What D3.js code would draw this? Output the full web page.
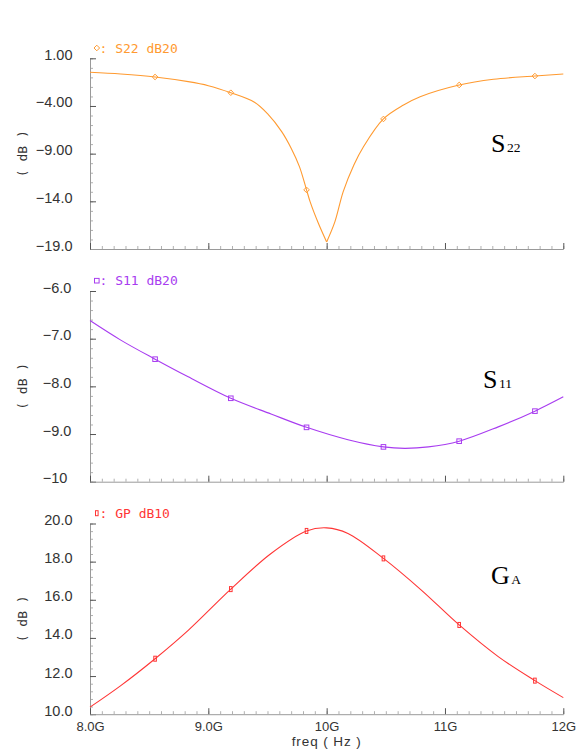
<!DOCTYPE html>
<html><head><meta charset="utf-8">
<script src="https://cdnjs.cloudflare.com/ajax/libs/d3/7.8.5/d3.min.js"></script>
<style>body{margin:0;background:#fff}svg{display:block}</style>
</head><body>
<script>
// ---------- data ----------
const xTicks = [8, 9, 10, 11, 12];
const xTickLabels = ["8.0G", "9.0G", "10G", "11G", "12G"];
const markerFreq = [8.55, 9.19, 9.83, 10.48, 11.12, 11.76];

const freqS22 = [8.0, 8.26, 8.55, 8.83, 9.0, 9.19, 9.39, 9.5, 9.62, 9.7, 9.77, 9.83, 9.86, 9.93, 10.0, 10.07, 10.14, 10.23, 10.31, 10.48, 10.65, 10.79, 11.12, 11.41, 11.76, 12.0];
const valS22 = [-0.47, -0.65, -0.96, -1.45, -1.87, -2.61, -3.6, -4.8, -6.69, -8.43, -10.36, -12.8, -14.03, -16.3, -18.26, -16.13, -12.98, -10.18, -8.3, -5.36, -3.9, -3.03, -1.8, -1.2, -0.86, -0.65];
const markS22 = [-0.96, -2.61, -12.8, -5.36, -1.8, -0.86];
const yTicksS22 = [1, -4, -9, -14, -19];
const yLabelsS22 = ["1.00", "\u22124.00", "\u22129.00", "\u221214.0", "\u221219.0"];

const freqS11 = [8.0, 8.26, 8.55, 8.83, 9.19, 9.53, 9.83, 10.18, 10.48, 10.66, 10.86, 11.12, 11.45, 11.76, 12.0];
const valS11 = [-6.62, -7.03, -7.43, -7.80, -8.25, -8.58, -8.86, -9.12, -9.27, -9.30, -9.27, -9.15, -8.85, -8.52, -8.22];
const markS11 = [-7.43, -8.25, -8.86, -9.27, -9.15, -8.52];
const yTicksS11 = [-6, -7, -8, -9, -10];
const yLabelsS11 = ["\u22126.0", "\u22127.0", "\u22128.0", "\u22129.0", "\u221210"];

const freqGP = [8.0, 8.26, 8.55, 8.83, 9.19, 9.53, 9.83, 10.0, 10.18, 10.48, 10.80, 11.12, 11.45, 11.76, 12.0];
const valGP = [10.37, 11.5, 12.91, 14.4, 16.56, 18.43, 19.61, 19.77, 19.48, 18.17, 16.51, 14.68, 13.02, 11.76, 10.87];
const markGP = [12.91, 16.56, 19.61, 18.17, 14.68, 11.76];
const yTicksGP = [20, 18, 16, 14, 12, 10];
const yLabelsGP = ["20.0", "18.0", "16.0", "14.0", "12.0", "10.0"];

// ---------- layout ----------
const W = 576, H = 753;
const svg = d3.select("body").append("svg").attr("width", W).attr("height", H);
const x = d3.scaleLinear().domain([8, 12]).range([90, 563.3]);
const panelH = 190.7;
const sans = "'Liberation Sans', Arial, sans-serif";
const mono = "'DejaVu Sans Mono', monospace";

const panels = [
  {top: 58.3, domain: [-19, 1], minorStep: 1, freq: freqS22, val: valS22, mark: markS22, ticks: yTicksS22, labels: yLabelsS22,
   color: "#ff9a30", legend: ": S22 dB20", marker: "diamond", anchor: "end", split: 10,
   title: ["S", "22"], titleX: 491, titleY: 151.7},
  {top: 291, domain: [-10, -6], minorStep: 0.2, freq: freqS11, val: valS11, mark: markS11, ticks: yTicksS11, labels: yLabelsS11,
   color: "#a83cf0", legend: ": S11 dB20", marker: "square", anchor: "start",
   title: ["S", "11"], titleX: 483, titleY: 388.3},
  {top: 523.5, domain: [10, 20], minorStep: 0.4, freq: freqGP, val: valGP, mark: markGP, ticks: yTicksGP, labels: yLabelsGP,
   color: "#ff3535", legend: ": GP dB10", marker: "rect", anchor: "end",
   title: ["G", "A"], titleX: 491, titleY: 584.3, last: true}
];

function drawMarker(g, type, cx, cy, color) {
  if (type === "diamond") {
    g.append("path").attr("d", `M${cx},${cy-2.8}L${cx+2.8},${cy}L${cx},${cy+2.8}L${cx-2.8},${cy}Z`)
      .attr("fill", "none").attr("stroke", color).attr("stroke-width", 1);
  } else if (type === "square") {
    g.append("rect").attr("x", cx - 2.3).attr("y", cy - 2.3).attr("width", 4.6).attr("height", 4.6)
      .attr("fill", "none").attr("stroke", color).attr("stroke-width", 1);
  } else {
    g.append("rect").attr("x", cx - 1.3).attr("y", cy - 2.5).attr("width", 2.6).attr("height", 5)
      .attr("fill", "none").attr("stroke", color).attr("stroke-width", 1);
  }
}

panels.forEach(p => {
  const bottom = p.top + panelH;
  const y = d3.scaleLinear().domain(p.domain).range([bottom, p.top]);
  const g = svg.append("g");

  // minor y ticks
  const minorY = d3.range(p.domain[0], p.domain[1] + p.minorStep / 2, p.minorStep);
  g.append("g").attr("transform", `translate(${x(8)},0)`)
    .call(d3.axisLeft(y).tickValues(minorY).tickSizeInner(-3).tickSizeOuter(0).tickFormat(""))
    .call(a => a.select(".domain").remove())
    .call(a => a.selectAll("line").attr("stroke", "#b0b0b0"));

  // major y axis
  const ay = g.append("g").attr("transform", `translate(${x(8)},0)`)
    .call(d3.axisLeft(y).tickValues(p.ticks).tickFormat((d, i) => p.labels[i])
      .tickSizeInner(-6).tickSizeOuter(0).tickPadding(17.5));
  ay.select(".domain").attr("stroke", "#9a9a9a");
  ay.selectAll("line").attr("stroke", "#555");
  ay.selectAll("text").attr("font-family", sans)
    .attr("font-size", 14.5).attr("fill", "#333").attr("dy", 1)
    .attr("text-anchor", p.anchor);
  if (p.anchor === "start") ay.selectAll("text").attr("x", 42.7 - x(8));

  // minor x ticks
  const minorX = d3.range(8, 12.05, 0.1);
  g.append("g").attr("transform", `translate(0,${bottom})`)
    .call(d3.axisBottom(x).tickValues(minorX).tickSizeInner(-3).tickSizeOuter(0).tickFormat(""))
    .call(a => a.select(".domain").remove())
    .call(a => a.selectAll("line").attr("stroke", "#b0b0b0"));

  // major x axis
  const ax = g.append("g").attr("transform", `translate(0,${bottom})`)
    .call(d3.axisBottom(x).tickValues(xTicks).tickFormat((d, i) => p.last ? xTickLabels[i] : "")
      .tickSizeInner(-6).tickSizeOuter(0).tickPadding(17));
  ax.select(".domain").attr("stroke", "#9a9a9a");
  ax.selectAll("line").attr("stroke", "#555");
  ax.selectAll("text").attr("font-family", sans)
    .attr("font-size", 13).attr("fill", "#333").attr("dy", 0);

  // y label
  g.append("text").attr("transform", `translate(22.5,${(p.top + bottom) / 2}) rotate(-90)`)
    .attr("text-anchor", "middle").attr("dominant-baseline", "central")
    .attr("font-family", mono).attr("font-size", 13)
    .attr("fill", "#333").style("white-space", "pre")
    .text("( dB )");

  // curve
  const pts = p.freq.map((f, i) => [f, p.val[i]]);
  const line = d3.line().x(d => x(d[0])).y(d => y(d[1])).curve(d3.curveCatmullRom.alpha(0.5));
  const segs = p.split !== undefined
    ? [pts.filter(d => d[0] <= p.split), pts.filter(d => d[0] >= p.split)]
    : [pts];
  segs.forEach(s => g.append("path").attr("d", line(s)).attr("fill", "none")
    .attr("stroke", p.color).attr("stroke-width", 1.1));

  // markers
  markerFreq.forEach((f, i) => drawMarker(g, p.marker, x(f), y(p.mark[i]), p.color));

  // legend
  drawMarker(g, p.marker, 96.8, p.top - 10.3, p.color);
  g.append("text").attr("x", 99.5).attr("y", p.top - 5.6)
    .attr("font-family", mono).attr("font-size", 13)
    .attr("fill", p.color).style("white-space", "pre").text(p.legend);

  // title
  const t = g.append("text").attr("x", p.titleX).attr("y", p.titleY)
    .attr("font-family", "'Liberation Serif', 'Times New Roman', serif").attr("fill", "#000");
  t.append("tspan").attr("font-size", 26).text(p.title[0]);
  t.append("tspan").attr("font-size", 13.5).attr("dx", 1.5).text(p.title[1]);
});

// x axis title
svg.append("text").attr("x", (x(8) + x(12)) / 2).attr("y", 746)
  .attr("text-anchor", "middle").attr("font-family", sans)
  .attr("font-size", 13.5).attr("letter-spacing", 0.9).attr("fill", "#333")
  .style("white-space", "pre").text("freq ( Hz )");
</script>
</body></html>
